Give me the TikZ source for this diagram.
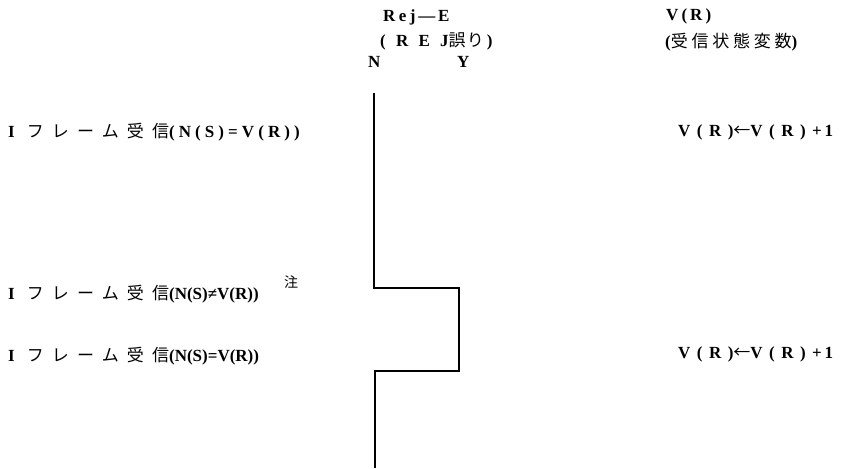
\documentclass[tikz,border=0pt]{standalone}
\usepackage{fontspec}
\setmainfont{Liberation Serif}
\newfontfamily\jp{Noto Sans CJK JP}
\newcommand{\ls}[1]{\addfontfeature{LetterSpace=#1}}
\newcommand{\jpt}[3][16]{{\fontsize{#1}{20}\selectfont\mdseries\jp\ls{#2}#3}}
\begin{document}
\begin{tikzpicture}[x=1pt,y=-1pt,
  txt/.style={inner sep=0pt, anchor=west, font=\fontsize{17}{20}\selectfont\bfseries},
  note/.style={inner sep=0pt, anchor=west, font=\fontsize{14}{16}\selectfont\jp},
  trace/.style={line width=1.6pt, line join=miter}]
\useasboundingbox (0,0) rectangle (845,468);

% column headers
\node[txt] (rej)  at (383,17) {\ls{20}Rej\,—\,E};
\node[txt] (rejb) at (380,41) {\ls{60}(REJ\jpt[17]{8}{誤り}\,)};
\node[txt] (colN) at (368,62) {N};
\node[txt] (colY) at (457,62) {Y};
\node[txt] (vr)   at (666,16) {\ls{18}V(R)};
\node[txt] (vrb)  at (665,42) {\ls{30}(\jpt[17]{22}{受信状態変数})};

% events
\node[txt] (ev1) at (8,132) {I\hspace{12pt}\jpt[17]{48}{フレーム受信}\ls{24}(N(S)=V(R))};
\node[txt] (ev2) at (8,294) {I\hspace{12pt}\jpt[17]{48}{フレーム受信}(N(S)≠V(R))};
\node[note] (chu) at (284,282) {注};
\node[txt] (ev3) at (8,356) {I\hspace{12pt}\jpt[17]{48}{フレーム受信}(N(S)=V(R))};

% actions
\node[txt] (act1) at (678,132) {\ls{38}V(R){\mdseries\jp←}V(R)+\,1};
\node[txt] (act2) at (678,354) {\ls{38}V(R){\mdseries\jp←}V(R)+\,1};

% REJ error state trace
\coordinate (t0) at (374,93);
\coordinate (t1) at (374,288);
\coordinate (t2) at (459,288);
\coordinate (t3) at (459,371);
\coordinate (t4) at (375,371);
\coordinate (t5) at (375,468);
\draw[trace] (t0) -- (t1) -- (t2) -- (t3) -- (t4) -- (t5);
\end{tikzpicture}
\end{document}
